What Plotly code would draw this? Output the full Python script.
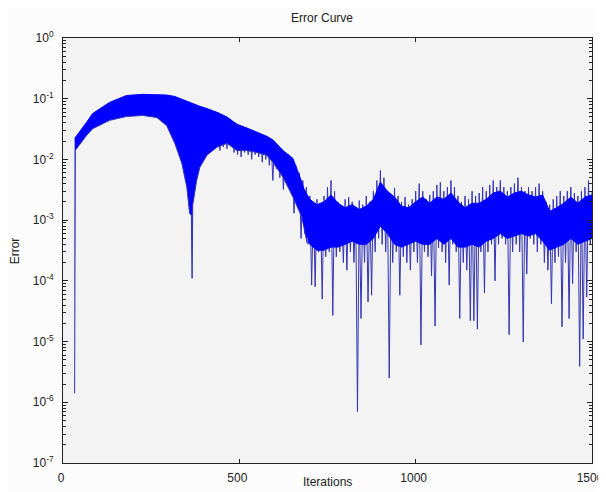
import plotly.graph_objects as go

# ---------------- data ----------------
# dense oscillating band: upper / lower envelope of the error
band_iter = [33, 35, 67, 84, 132, 180, 226, 266, 294, 317, 337, 351, 359, 364, 366, 368,
             379, 388, 408, 436, 465, 493, 521, 550, 578, 595, 624, 652, 678, 692]
band_upper = [0.022, 0.023, 0.041, 0.057, 0.087, 0.113, 0.118, 0.118, 0.115, 0.109, 0.098,
              0.092, 0.087, 0.085, 0.085, 0.084, 0.078, 0.075, 0.069, 0.060, 0.050, 0.038,
              0.033, 0.028, 0.024, 0.021, 0.014, 0.0104, 0.0041, 0.0021]
band_lower = [1.4e-6, 0.0141, 0.0249, 0.032, 0.044, 0.051, 0.053, 0.049, 0.036, 0.0184,
              0.0086, 0.0035, 0.0013, 0.0012, 1.1e-4, 0.0018, 0.0045, 0.0074, 0.0117,
              0.0158, 0.0184, 0.014, 0.014, 0.013, 0.0117, 0.009, 0.0051, 0.0024, 0.0011,
              4.2e-4]

# noisy tail: solid core of the oscillation (every 20 iterations)
bulk_iter = list(range(680, 1501, 20))
bulk_upper = [3.5e-3, 2.2e-3, 1.8e-3, 2.0e-3, 2.6e-3, 1.9e-3, 1.6e-3, 1.8e-3, 1.5e-3, 1.7e-3,
              2.2e-3, 4.2e-3, 3.0e-3, 2.4e-3, 1.7e-3, 1.6e-3, 2.0e-3, 2.4e-3, 1.9e-3, 2.4e-3,
              2.2e-3, 2.8e-3, 2.0e-3, 1.6e-3, 1.9e-3, 1.9e-3, 2.2e-3, 2.8e-3, 3.0e-3, 2.4e-3,
              2.8e-3, 3.0e-3, 2.6e-3, 2.4e-3, 2.6e-3, 1.4e-3, 1.6e-3, 1.9e-3, 2.4e-3, 1.9e-3,
              2.4e-3, 2.6e-3]
bulk_lower = [1.0e-3, 4e-4, 3.2e-4, 3.2e-4, 3.6e-4, 3.6e-4, 4e-4, 4.5e-4, 4e-4, 4e-4,
              5e-4, 8e-4, 6e-4, 4e-4, 3.6e-4, 4e-4, 4.5e-4, 4e-4, 4e-4, 5e-4,
              4e-4, 5e-4, 3.6e-4, 3.6e-4, 4e-4, 3.6e-4, 4.5e-4, 5e-4, 6e-4, 5e-4,
              5.5e-4, 6e-4, 5.5e-4, 6e-4, 4.5e-4, 3.2e-4, 3.6e-4, 4e-4, 5e-4, 4e-4,
              4.5e-4, 5e-4]

# oscillation extremes: local peaks (at 440, 450, ...) and troughs (at 445, 455, ...)
peak_iter = list(range(440, 1501, 10))
noise_peaks = [0.06, 0.055, 0.05, 0.048, 0.042, 0.04, 0.036, 0.035, 0.033, 0.031,
               0.03, 0.028, 0.026, 0.025, 0.023, 0.021, 0.02, 0.017, 0.015, 0.013,
               1.2e-2, 1.0e-2, 8e-3, 6e-3, 4.5e-3, 3.5e-3, 2.5e-3, 2.0e-3, 2.2e-3, 1.8e-3,
               2.5e-3, 3.5e-3, 4.5e-3, 3e-3, 2e-3, 1.5e-3, 2.2e-3, 2.4e-3, 2.0e-3, 1.6e-3,
               2.1e-3, 1.8e-3, 2.5e-3, 2e-3, 3e-3, 4.5e-3, 6.6e-3, 5e-3, 3e-3, 2.2e-3,
               3.4e-3, 2.5e-3, 2e-3, 2.4e-3, 1.8e-3, 2.2e-3, 3e-3, 4e-3, 3e-3, 2.2e-3,
               2.6e-3, 3e-3, 3.8e-3, 4.2e-3, 3e-3, 3.5e-3, 4.5e-3, 3.5e-3, 2.5e-3, 2e-3,
               2.5e-3, 2.2e-3, 3e-3, 2.5e-3, 2.8e-3, 3.5e-3, 3e-3, 3.8e-3, 4.5e-3, 3.5e-3,
               4.5e-3, 3.5e-3, 3e-3, 3.5e-3, 4e-3, 5e-3, 3.5e-3, 3e-3, 3.5e-3, 3e-3,
               3.5e-3, 4e-3, 3e-3, 2e-3, 1.8e-3, 2.2e-3, 2.5e-3, 3e-3, 2.5e-3, 3e-3,
               3.5e-3, 2.8e-3, 2.5e-3, 3e-3, 3.5e-3, 4.5e-3, 3e-3]
trough_iter = list(range(445, 1496, 10))
noise_troughs = [0.014, 0.016, 0.015, 0.017, 0.013, 0.012, 0.011, 0.013, 0.012, 0.010,
                 0.012, 0.011, 0.009, 0.010, 0.008, 0.0045, 0.007, 0.005, 0.0032, 0.004,
                 3e-3, 1.3e-3, 1.6e-3, 5e-4, 6e-4, 4e-4, 8.5e-5, 8e-5, 3e-4, 5e-5,
                 2.5e-4, 3e-4, 2.7e-5, 2.5e-4, 3e-4, 2e-4, 1.5e-4, 3e-4, 2e-4, 7e-7,
                 2.4e-5, 2e-4, 4.5e-5, 5.8e-5, 3e-4, 5e-4, 4e-4, 3e-4, 2.5e-6, 2e-4,
                 3e-4, 5.8e-5, 2.5e-4, 2e-4, 1.5e-4, 3e-4, 2e-4, 8.8e-6, 3e-4, 2.5e-4,
                 1.2e-4, 1.8e-5, 3.5e-4, 3e-4, 2e-4, 8.5e-5, 4e-4, 3e-4, 2.4e-5, 2e-4,
                 1.5e-4, 2.2e-5, 2.2e-5, 1.6e-5, 3e-4, 6.3e-5, 3e-4, 4e-4, 1e-4, 4e-4,
                 5e-4, 4e-4, 1.3e-5, 3e-4, 4e-4, 3e-4, 9.8e-6, 1.3e-4, 5e-4, 4e-4,
                 3e-4, 4e-4, 2e-4, 1.5e-4, 4.2e-5, 2e-4, 2.5e-4, 1.75e-5, 2e-4, 2.4e-5,
                 9e-5, 3e-4, 3.9e-6, 1.1e-5, 5.4e-5, 4e-4]

x_ticks = [0, 500, 1000, 1500]
y_decades = [-7, -6, -5, -4, -3, -2, -1, 0]

# ---------------- build figure ----------------
noise_iter, noise_err = [], []
for i, p in enumerate(noise_peaks):
    noise_iter.append(peak_iter[i]); noise_err.append(p)
    if i < len(noise_troughs):
        noise_iter.append(trough_iter[i]); noise_err.append(noise_troughs[i])

BLUE = "#0000ff"
SPIKE = "#3535b5"
fig = go.Figure()
# extremes first (thin spikes), solid cores drawn on top
fig.add_trace(go.Scatter(x=noise_iter, y=noise_err, mode="lines",
                         line=dict(color=SPIKE, width=1), showlegend=False))
fig.add_trace(go.Scatter(x=band_iter, y=band_upper, mode="lines",
                         line=dict(color=BLUE, width=1), showlegend=False, hoverinfo="skip"))
fig.add_trace(go.Scatter(x=band_iter, y=band_lower, mode="lines", fill="tonexty",
                         fillcolor=BLUE, line=dict(color=SPIKE, width=1),
                         showlegend=False, hoverinfo="skip"))
fig.add_trace(go.Scatter(x=bulk_iter, y=bulk_upper, mode="lines",
                         line=dict(color=BLUE, width=1), showlegend=False, hoverinfo="skip"))
fig.add_trace(go.Scatter(x=bulk_iter, y=bulk_lower, mode="lines", fill="tonexty",
                         fillcolor=BLUE, line=dict(color=BLUE, width=1),
                         showlegend=False, hoverinfo="skip"))

minor_vals = [m * 10 ** d for d in y_decades[:-1] for m in range(2, 10)]
font = "Liberation Sans, Arial, sans-serif"
TXT = "#222222"

# the page body has an 8px margin, so the figure is 8px smaller and shifted
fig.update_layout(
    width=598, height=484,
    margin=dict(l=55, r=14, t=30, b=29, autoexpand=False),
    paper_bgcolor="#fcfcfc", plot_bgcolor="#f3f3f3",
    font=dict(family=font, size=12, color=TXT),
    xaxis=dict(range=[0, 1500], tickvals=x_ticks, ticktext=[str(v) for v in x_ticks],
               ticks="inside", ticklen=4, tickcolor=TXT, showgrid=False, zeroline=False,
               showline=True, linecolor=TXT, linewidth=1, mirror="ticks",
               automargin=False, ticklabelstandoff=4, ticklabelshift=-2,
               tickfont=dict(size=12)),
    yaxis=dict(type="log", range=[-7, 0],
               tickvals=[10 ** d for d in y_decades],
               ticktext=["10<sup>%d</sup>" % d for d in y_decades],
               ticks="inside", ticklen=5, tickcolor=TXT, showgrid=False, zeroline=False,
               showline=True, linecolor=TXT, linewidth=1, mirror="ticks",
               minor=dict(tickvals=minor_vals, ticks="inside", ticklen=3, tickcolor=TXT,
                          showgrid=False),
               automargin=False, ticklabelstandoff=6, tickfont=dict(size=12)),
    annotations=[
        dict(text="Error Curve", xref="paper", yref="paper", x=0.49, y=1.068,
             xanchor="center", yanchor="top", showarrow=False, font=dict(size=12)),
        dict(text="Iterations", xref="paper", yref="paper", x=0.5, y=-0.067,
             xanchor="center", yanchor="bottom", showarrow=False, font=dict(size=12)),
        dict(text="Error", xref="paper", yref="paper", x=-0.091, y=0.5, textangle=-90,
             xanchor="center", yanchor="middle", showarrow=False, font=dict(size=12)),
    ],
)

fig.write_html("out.html")
